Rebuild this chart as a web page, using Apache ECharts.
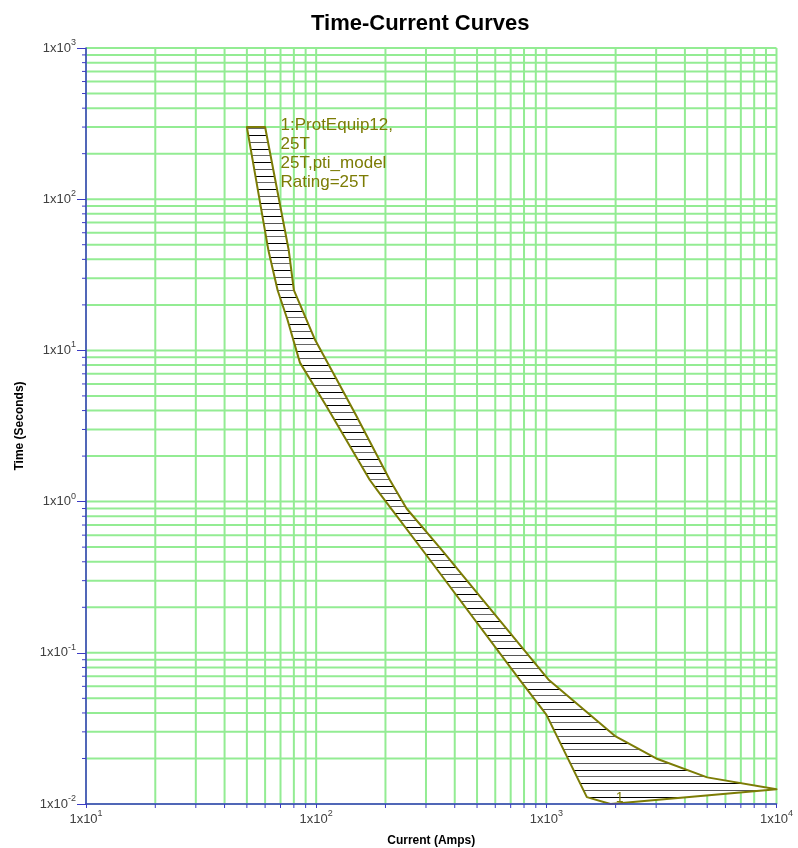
<!DOCTYPE html>
<html><head><meta charset="utf-8">
<script src="https://cdn.jsdelivr.net/npm/echarts@6/dist/echarts.min.js"></script>
<style>html,body{margin:0;padding:0;background:#fff}#c{width:798px;height:848px}</style>
</head><body><div id="c"></div>
<script>
// ---- data ----
const minCurveCurrent = [50, 62, 68, 75, 85, 111, 171, 189, 302, 768, 1000, 1500, 1900];
const minCurveTime    = [300, 46, 25, 16, 8.3, 4.25, 1.39, 1.13, 0.44, 0.066, 0.039, 0.0111, 0.01];
const maxCurveCurrent = [60, 76, 80, 99, 123, 150, 209, 247, 351, 1026, 2000, 3000, 5000, 10000];
const maxCurveTime    = [300, 46, 25, 11.7, 6.4, 3.65, 1.39, 0.9, 0.48, 0.066, 0.028, 0.02, 0.015, 0.0125];
const curveLabel = '1:ProtEquip12,\n25T\n25T,pti_model\nRating=25T';
const curveLabelAt = [70, 300];
const curveNumber = '1';
const curveNumberAt = [2000, 0.01];
const xMin = 10, xMax = 10000, yMin = 0.01, yMax = 1000;
const titleText = 'Time-Current Curves';
const xName = 'Current (Amps)';
const yName = 'Time (Seconds)';

// ---- styles ----
const GRID_GREEN = '#93ec93';
const AXIS_BLUE = '#3b3bc4';
const OLIVE = '#7c7c05';
const FONT = 'Arial, "Liberation Sans", sans-serif';

function logGridValues(min, max) {
  const out = [];
  const e0 = Math.round(Math.log10(min)), e1 = Math.round(Math.log10(max));
  for (let e = e0; e <= e1; e++) {
    for (let k = 1; k <= 9; k++) {
      const v = k * Math.pow(10, e);
      if (v <= max * 1.0001) out.push({ v: v, major: k === 1 });
    }
  }
  return out;
}
const xGrid = logGridValues(xMin, xMax);
const yGrid = logGridValues(yMin, yMax);

// hatch pattern
const pat = document.createElement('canvas');
pat.width = 8; pat.height = 27;
const pctx = pat.getContext('2d');
pctx.fillStyle = '#ffffff'; pctx.fillRect(0, 0, 8, 27);
[[0,'#000'],[7,'#555'],[14,'#000'],[20,'#666']].forEach(function (r) {
  pctx.fillStyle = r[1]; pctx.fillRect(0, r[0], 8, 1);
});

function labelFmt(v) {
  const e = Math.round(Math.log10(v));
  return '{b|1x10}{s|' + e + '}';
}
const richLabel = {
  b: { fontSize: 13, fontFamily: FONT, color: '#404040', lineHeight: 20, verticalAlign: 'middle' },
  s: { fontSize: 9, fontFamily: FONT, color: '#404040', lineHeight: 10, verticalAlign: 'top' }
};

const chart = echarts.init(document.getElementById('c'), null, { renderer: 'canvas' });
chart.setOption({
  animation: false,
  backgroundColor: '#ffffff',
  title: {
    text: titleText, left: 306, top: 8,
    textStyle: { fontSize: 22, fontWeight: 'bold', fontFamily: FONT, color: '#000' }
  },
  grid: { left: 86, top: 48, width: 690.5, height: 756, containLabel: false, outerBoundsMode: 'none' },
  xAxis: {
    type: 'log', logBase: 10, min: xMin, max: xMax, z: 5,
    name: xName, nameLocation: 'middle', nameGap: 31,
    nameTextStyle: { fontSize: 12, fontWeight: 'bold', fontFamily: FONT, color: '#000' },
    axisLine: { lineStyle: { color: AXIS_BLUE, width: 1.5 } },
    axisTick: { length: 4, lineStyle: { color: AXIS_BLUE } },
    axisLabel: { formatter: labelFmt, rich: richLabel, margin: 5 },
    splitLine: { show: false }, minorTick: { show: false }
  },
  yAxis: {
    type: 'log', logBase: 10, min: yMin, max: yMax, z: 5,
    name: yName, nameLocation: 'middle', nameGap: 60, nameRotate: 90,
    nameTextStyle: { fontSize: 12, fontWeight: 'bold', fontFamily: FONT, color: '#000' },
    axisLine: { lineStyle: { color: AXIS_BLUE, width: 1.5 } },
    axisTick: { length: 9, lineStyle: { color: AXIS_BLUE } },
    axisLabel: { formatter: labelFmt, rich: richLabel, margin: 10 },
    splitLine: { show: false }, minorTick: { show: false }
  },
  series: [
    {
      type: 'custom', z: 1, silent: true, clip: false,
      data: xGrid.map(function (g) { return [g.v, yMin, g.major ? 1 : 0]; }),
      renderItem: function (params, api) {
        const v = api.value(0), major = api.value(2);
        const p0 = api.coord([v, yMin]), p1 = api.coord([v, yMax]);
        const ch = [{ type: 'line', shape: { x1: p0[0], y1: p0[1], x2: p1[0], y2: p1[1] },
          style: { stroke: GRID_GREEN, lineWidth: 2 } }];
        if (!major) ch.push({ type: 'line', z2: 10, shape: { x1: p0[0], y1: p0[1], x2: p0[0], y2: p0[1] + 4 },
          style: { stroke: AXIS_BLUE, lineWidth: 1 } });
        return { type: 'group', children: ch };
      }
    },
    {
      type: 'custom', z: 1, silent: true, clip: false,
      data: yGrid.map(function (g) { return [xMin, g.v, g.major ? 1 : 0]; }),
      renderItem: function (params, api) {
        const v = api.value(1), major = api.value(2);
        const p0 = api.coord([xMin, v]), p1 = api.coord([xMax, v]);
        const ch = [{ type: 'line', shape: { x1: p0[0], y1: p0[1], x2: p1[0], y2: p1[1] },
          style: { stroke: GRID_GREEN, lineWidth: 2 } }];
        if (!major) ch.push({ type: 'line', shape: { x1: p0[0] - 4, y1: p0[1], x2: p0[0], y2: p0[1] },
          style: { stroke: AXIS_BLUE, lineWidth: 1 } });
        return { type: 'group', children: ch };
      }
    },
    {
      type: 'custom', z: 3, silent: true, clip: false,
      data: [[minCurveCurrent[0], minCurveTime[0]]],
      renderItem: function (params, api) {
        const pts = [];
        for (let i = 0; i < minCurveCurrent.length; i++) pts.push(api.coord([minCurveCurrent[i], minCurveTime[i]]));
        for (let i = maxCurveCurrent.length - 1; i >= 0; i--) pts.push(api.coord([maxCurveCurrent[i], maxCurveTime[i]]));
        const lp = api.coord(curveLabelAt);
        const np = api.coord(curveNumberAt);
        return { type: 'group', children: [
          { type: 'polygon', shape: { points: pts },
            style: { fill: { image: pat, repeat: 'repeat' }, stroke: OLIVE, lineWidth: 2, lineJoin: 'round' } },
          { type: 'text', x: lp[0], y: lp[1] - 11,
            style: { text: curveLabel, fill: OLIVE, fontSize: 17, fontFamily: FONT, lineHeight: 19,
              align: 'left', verticalAlign: 'top' } },
          { type: 'text', x: np[0] + 4, y: np[1] + 1,
            style: { text: curveNumber, fill: OLIVE, fontSize: 14, fontFamily: FONT,
              align: 'center', verticalAlign: 'bottom' } }
        ] };
      }
    }
  ]
});
</script>
</body></html>
